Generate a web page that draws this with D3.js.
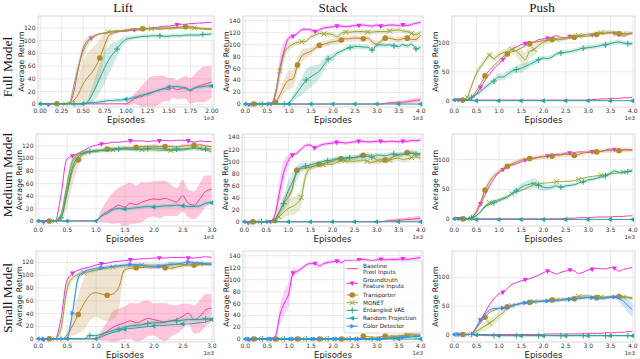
<!DOCTYPE html>
<html>
<head>
<meta charset="utf-8">
<script src="https://cdnjs.cloudflare.com/ajax/libs/d3/7.8.5/d3.min.js"></script>
<style>
body { margin: 0; background: #fff; }
svg { display: block; font-family: "DejaVu Sans", sans-serif; }
</style>
</head>
<body>
<div id="chart"></div>
<script>
// Methods, in legend order
var methodNames = [["Baseline", "Pixel Inputs"], ["Groundtruth", "Feature Inputs"], ["Transporter"], ["MONET"], ["Entangled VAE"], ["Random Projection"], ["Color Detector"]];
var methodColors = ["#f7428c", "#ee2bee", "#b8862b", "#9aa533", "#2aa58c", "#20a5ad", "#3b8ef2"];
var methodMarkers = ["none", "triDown", "circle", "x", "plus", "triLeft", "triRight"];
var markerOffset = [0, 100, 200, 300, 400, 0, 100];

var tasks = ["Lift", "Stack", "Push"];
var models = ["Full Model", "Medium Model", "Small Model"];

// episode grids and ticks
var shortEpisodes = d3.range(0, 2001, 50);
var midEpisodes = d3.range(0, 3001, 100);
var longEpisodes = d3.range(0, 4001, 100);
var shortXTicks = [0, 250, 500, 750, 1000, 1250, 1500, 1750, 2000];
var midXTicks = [0, 500, 1000, 1500, 2000, 2500, 3000];
var longXTicks = [0, 500, 1000, 1500, 2000, 2500, 3000, 3500, 4000];
var liftYTicks = [0, 20, 40, 60, 80, 100, 120];
var stackYTicks = [0, 20, 40, 60, 80, 100, 120, 140];
var pushYTicks = [0, 50, 100];

// ---- Full model, Lift (every 50 episodes)
var fullLiftBaseline = [0,0,0,0,0,0,0,0,0,0, 0,0,0,0,0,0,0,0,0,0, 0,3,8,10,12,16,18,20,22,24, 22,25,22,24,26,20,24,28,30,32, 34];
var fullLiftBaselineBand = [0,0,0,0,0,0,0,0,0,0, 0,0,0,0,0,0,0,0,0,0, 2,5,8,12,18,22,25,24,22,20, 18,16,15,16,18,20,22,25,28,27, 25];
var fullLiftGroundtruth = [0,0,-2,0,0,0,0,2,20,55, 85,98,103,107,110,111,112,113,113,114, 114,115,116,116,117,118,119,120,121,122, 122,123,124,125,125,126,126,127,127,128, 128];
var fullLiftTransporter = [0,0,0,0,0,0,0,1,6,15, 30,40,48,58,72,90,106,111,113,114, 115,116,117,117,118,118,118,118,119,119, 119,120,120,121,121,121,120,119,118,118, 118];
var fullLiftTransporterBand = [0,0,0,0,0,0,0,2,10,25, 35,38,38,35,30,20,8,4,2,2, 2,2,2,2,2,2,2,2,2,2, 2,2,2,2,2,2,2,2,2,2, 2];
var fullLiftMonet = [0,0,0,0,0,0,0,3,30,58, 80,95,103,108,110,111,113,114,115,115, 116,117,117,118,118,118,118,118,117,118, 118,118,119,119,119,119,119,118,118,117, 117];
var fullLiftMonetBand = [0,0,0,0,0,0,0,2,8,12, 12,10,6,3,2,2,2,2,2,2, 2,2,2,2,2,2,2,2,2,2, 2,2,2,2,2,2,2,2,2,2, 2];
var fullLiftVae = [0,0,0,0,0,0,0,0,0,0, 0,2,12,25,40,55,68,78,86,95, 101,103,104,105,106,106,107,107,107,106, 106,107,107,107,108,108,108,108,109,109, 110];
var fullLiftVaeBand = [0,0,0,0,0,0,0,0,0,0, 0,3,10,18,22,25,22,18,12,8, 5,3,3,3,3,3,3,3,3,3, 3,3,3,3,3,3,3,3,3,3, 3];
var fullLiftRandom = [0,0,0,0,0,0,0,0,0,0, 0,1,2,2,3,4,5,5,6,6, 7,8,10,12,14,15,17,20,22,24, 26,27,27,26,24,22,25,26,27,28, 28];
var fullLiftRandomBand = [0,0,0,0,0,0,0,0,0,0, 0,2,3,3,3,3,3,3,3,3, 3,3,3,3,3,3,3,3,3,3, 3,3,3,3,3,3,3,3,3,3, 3];

// ---- Full model, Stack (every 100 episodes)
var fullStackBaseline = [0,0,0,0,0,0,0,0,0,0, 0,0,0,0,0,0,0,0,0,0, 0,0,0,0,0,0,0,0,0,0, 0,0,1,2,2,3,3,4,5,6, 7];
var fullStackBaselineBand = [0,0,0,0,0,0,0,0,0,0, 0,0,0,0,0,0,0,0,0,0, 0,0,0,0,0,0,0,0,0,0, 0,1,1,2,2,3,3,3,4,4, 4];
var fullStackGroundtruth = [0,-2,0,0,0,0,0,15,60,90, 110,113,118,124,125,124,121,124,127,128, 129,130,130,129,130,131,131,132,131,130, 132,130,131,132,132,131,132,131,133,135, 136];
var fullStackGroundtruthBand = [0,0,0,0,0,0,0,8,20,15, 5,3,3,3,3,3,3,3,3,3, 3,3,3,3,3,3,3,3,3,3, 3,3,3,3,3,3,3,3,3,3, 3];
var fullStackTransporter = [0,0,0,0,0,0,0,3,15,30, 40,42,65,80,85,88,93,98,100,102, 104,105,107,109,109,110,110,109,110,104, 100,105,110,110,108,107,109,110,108,108, 115];
var fullStackTransporterBand = [0,0,0,0,0,0,0,3,8,12, 15,15,12,10,8,6,5,5,5,5, 5,5,5,5,5,5,5,5,5,5, 5,5,5,5,5,5,5,5,5,5, 5];
var fullStackMonet = [0,0,0,0,0,0,0,20,55,85, 95,100,103,104,105,112,115,118,117,117, 116,112,118,120,120,121,121,121,120,120, 121,121,121,122,123,124,122,121,118,116, 120];
var fullStackMonetBand = [0,0,0,0,0,0,0,5,12,10, 6,5,4,4,4,4,4,4,4,4, 4,4,4,4,4,4,4,4,4,4, 4,4,4,4,4,4,4,4,4,4, 4];
var fullStackVae = [0,0,0,0,0,0,0,0,0,0, 2,10,20,30,40,45,50,55,65,75, 78,85,88,92,94,96,96,95,95,90, 98,99,98,99,97,96,99,97,100,92, 95];
var fullStackVaeBand = [0,0,0,0,0,0,0,0,0,0, 2,6,10,15,18,18,15,12,10,8, 6,5,4,4,4,4,4,4,4,4, 4,4,4,4,4,4,4,4,4,4, 4];
var fullStackRandom = [0,0,0,0,0,0,0,0,0,0, 0,0,0,0,0,0,0,0,0,0, 0,0,0,0,0,0,0,0,0,0, 0,0,0,0,0,0,0,0,0,0, 0];

// ---- Full model, Push
var fullPushBaseline = [0,-1,0,0,0,0,0,0,0,0, 0,0,0,0,0,0,0,0,0,0, 0,0,0,0,0,0,0,0,0,0, 0,1,1,2,2,3,3,3,4,4, 5];
var fullPushGroundtruth = [0,0,0,0,3,10,22,35,45,55, 62,70,80,88,92,96,98,100,101,105, 106,107,109,112,109,108,110,112,111,113, 114,113,115,116,115,117,116,114,111,114, 116];
var fullPushTransporter = [0,0,0,1,5,15,28,42,52,60, 68,75,80,84,86,90,94,98,100,102, 103,104,105,105,106,106,108,109,110,110, 111,112,114,115,116,117,116,115,115,115, 115];
var fullPushMonet = [0,0,0,5,25,45,58,68,78,72, 78,82,85,88,85,78,70,85,88,95, 100,103,104,106,105,108,110,112,112,113, 114,114,116,117,118,118,117,116,115,116, 117];
var fullPushMonetBand = [0,0,0,3,5,6,6,6,6,6, 6,6,6,8,10,12,14,12,10,8, 6,5,4,4,4,4,4,4,4,4, 4,4,4,4,4,4,4,4,4,4, 4];
var fullPushVae = [0,0,0,0,5,10,15,22,28,33, 40,40,45,50,53,55,58,62,66,70, 73,72,75,80,82,83,84,86,88,90, 91,92,93,95,96,98,100,101,99,98, 98];
var fullPushVaeBand = [0,0,0,0,3,3,4,4,5,5, 6,6,6,6,6,8,6,5,5,5, 4,4,4,4,4,4,4,4,4,4, 4,4,4,4,4,4,4,4,4,4, 4];
var fullPushRandom = [0,0,0,0,-1,-1,-1,-1,-1,-1, -1,-1,-1,-1,-1,-1,-1,-1,-1,-1, -1,-1,-1,-1,-1,-1,-1,-1,-1,-1, -1,-1,-1,-1,-1,-1,-1,-1,-1,-1, -1];

// ---- Medium model, Lift (every 100 episodes)
var medLiftBaseline = [0,0,0,0,0,0,0,0,0,0, 0,8,15,20,25,22,28,26,30,33, 35,34,36,33,30,40,28,25,35,47, 50];
var medLiftBaselineBand = [0,0,0,0,0,0,0,0,0,0, 0,10,18,25,28,35,33,30,32,28, 28,30,28,25,22,25,22,22,25,25, 22];
var medLiftGroundtruth = [0,-2,0,0,40,98,103,107,112,117, 120,122,123,125,125,126,127,127,127,126, 127,127,128,127,128,128,127,125,127,126, 126];
var medLiftTransporter = [0,0,0,0,5,40,80,97,107,110, 111,112,114,115,115,116,116,117,118,118, 119,118,118,118,117,119,120,120,121,119, 118];
var medLiftTransporterBand = [0,0,0,0,5,20,22,12,5,3, 3,3,3,3,3,3,3,3,3,3, 3,3,3,3,3,3,3,3,3,3, 3];
var medLiftMonet = [0,0,0,0,10,55,95,105,108,110, 111,112,113,113,114,114,114,114,113,113, 113,112,112,112,112,113,114,115,115,113, 110];
var medLiftMonetBand = [0,0,0,0,5,10,8,4,3,3, 3,3,3,3,3,3,3,3,3,3, 3,3,3,3,3,3,3,3,3,3, 3];
var medLiftVae = [0,0,0,0,5,45,85,102,108,110, 111,112,112,113,114,115,114,113,114,115, 116,115,114,113,114,114,115,116,115,114, 114];
var medLiftVaeBand = [0,0,0,0,5,12,10,5,3,3, 3,3,3,3,3,3,3,3,3,3, 3,3,3,3,3,3,3,3,3,3, 3];
var medLiftRandom = [0,0,0,0,0,0,0,0,0,0, 0,8,12,18,20,19,20,21,22,23, 22,23,24,24,25,24,23,23,24,28, 29];
var medLiftRandomBand = [0,0,0,0,0,0,0,0,0,0, 0,3,3,3,3,3,3,3,3,3, 3,3,3,3,3,3,3,3,3,3, 3];

// ---- Medium model, Stack
var medStackBaseline = [0,0,0,0,0,0,0,0,0,0, 0,0,0,0,0,0,0,0,0,0, 0,0,0,0,0,0,0,0,0,0, 0,0,1,2,2,3,3,4,4,5, 6];
var medStackBaselineBand = [0,0,0,0,0,0,0,0,0,0, 0,0,0,0,0,0,0,0,0,0, 0,0,0,0,0,0,0,0,0,0, 0,0,2,2,3,3,3,4,4,4, 4];
var medStackGroundtruth = [0,-2,0,0,0,0,0,10,45,80, 100,110,113,120,126,127,122,125,128,129, 130,131,131,130,131,132,133,133,132,132, 133,133,132,133,133,132,133,133,134,134, 135];
var medStackGroundtruthBand = [0,0,0,0,0,0,0,8,20,20, 10,5,3,3,3,3,3,3,3,3, 3,3,3,3,3,3,3,3,3,3, 3,3,3,3,3,3,3,3,3,3, 3];
var medStackTransporter = [0,0,0,0,0,0,0,2,15,30, 40,55,85,88,89,90,92,95,96,98, 100,103,104,106,105,106,108,110,111,107, 103,100,102,104,108,110,111,114,115,112, 110];
var medStackTransporterBand = [0,0,0,0,0,0,0,2,8,12, 12,10,6,4,4,4,4,4,4,4, 4,4,4,4,4,4,4,4,5,6, 6,5,4,4,4,4,4,4,4,4, 4];
var medStackMonet = [0,0,0,0,0,0,0,2,8,15, 22,25,30,40,75,88,92,93,94,95, 95,98,100,101,100,100,101,102,100,98, 100,103,101,102,104,105,103,104,106,107, 105];
var medStackMonetBand = [0,0,0,0,0,0,0,2,5,10, 12,15,15,15,10,6,4,4,4,4, 4,4,4,4,4,4,4,4,4,4, 4,4,4,4,4,4,4,4,4,4, 4];
var medStackVae = [0,0,0,0,0,0,0,3,15,30, 50,65,80,90,92,94,96,97,100,101, 102,104,105,104,106,106,107,108,108,107, 110,110,109,111,112,111,112,112,113,112, 113];
var medStackVaeBand = [0,0,0,0,0,0,0,2,5,10, 15,15,12,8,5,4,4,4,4,4, 4,4,4,4,4,4,4,4,4,4, 4,4,4,4,4,4,4,4,4,4, 4];
var medStackRandom = [0,0,0,0,0,0,0,0,0,0, 0,0,0,0,0,0,0,0,0,0, 0,0,0,0,0,0,0,0,0,0, 0,0,0,0,0,0,0,0,0,0, 0];

// ---- Medium model, Push
var medPushBaseline = [0,0,0,0,0,0,0,0,0,0, 0,0,0,0,0,0,0,0,0,0, 0,0,0,0,0,1,1,1,2,2, 2,2,3,3,3,3,4,4,4,5, 5];
var medPushGroundtruth = [0,0,0,0,2,10,25,40,55,67, 77,82,87,90,92,95,98,100,101,103, 104,105,106,108,108,110,110,111,112,112, 111,112,113,113,115,117,116,113,115,116, 115];
var medPushTransporter = [0,0,0,0,2,12,28,48,62,72, 78,84,88,92,95,98,100,101,102,103, 104,104,105,106,107,108,108,106,108,110, 112,112,112,113,114,114,115,114,116,115, 115];
var medPushTransporterBand = [0,0,0,0,3,4,5,6,6,5, 4,4,4,4,4,4,4,4,4,4, 4,4,4,4,4,4,4,4,4,4, 4,4,4,4,4,4,4,4,4,4, 4];
var medPushMonet = [0,0,0,0,1,5,12,22,27,30, 32,35,38,42,45,47,50,54,58,58, 60,60,61,62,62,63,63,64,66,68, 70,71,72,73,74,75,76,77,78,79, 79];
var medPushVae = [0,0,0,0,2,5,12,20,24,27, 30,33,36,42,47,52,56,58,60,56, 53,52,53,55,53,55,56,57,60,62, 65,66,68,70,72,76,80,78,78,79, 82];
var medPushVaeBand = [0,0,0,0,2,2,3,3,3,3, 3,3,3,4,5,6,7,8,8,7, 6,5,4,4,3,3,3,3,3,3, 3,3,3,3,3,4,4,3,3,3, 3];
var medPushRandom = [0,0,0,0,-1,-1,-1,-1,-1,-1, -1,-1,-1,-1,-1,-1,-1,-1,-1,-1, -1,-1,-1,-1,-1,-1,-1,-1,-1,-1, -1,-1,-1,-1,-1,-1,-1,-1,-1,-1, -1];

// ---- Small model, Lift
var smallLiftBaseline = [0,0,0,0,0,0,0,0,0,0, 0,5,12,18,22,25,28,25,28,32, 30,28,26,28,30,35,40,30,35,45, 48];
var smallLiftBaselineBand = [0,0,0,0,0,0,0,0,0,0, 0,8,15,25,25,25,28,30,30,28, 25,28,30,25,22,20,15,22,25,25, 22];
var smallLiftGroundtruth = [0,-2,0,0,30,90,102,107,110,112, 115,117,118,120,121,122,123,124,125,125, 126,126,126,127,127,127,126,126,127,128, 127];
var smallLiftTransporter = [0,0,0,0,0,5,20,38,55,68, 72,70,68,70,80,108,110,111,111,112, 112,112,111,110,112,114,115,115,116,116, 116];
var smallLiftTransporterBand = [0,0,0,0,0,5,15,30,40,40, 38,40,40,40,35,5,3,3,3,3, 3,3,3,3,3,3,3,3,3,3, 3];
var smallLiftMonet = [0,0,0,0,15,75,95,100,103,105, 107,109,110,112,113,114,114,114,115,115, 115,115,115,116,116,116,116,117,117,117, 118];
var smallLiftMonetBand = [0,0,0,0,8,12,6,4,3,3, 3,3,3,3,3,3,3,3,3,3, 3,3,3,3,3,3,3,3,3,3, 3];
var smallLiftVae = [0,0,0,0,0,0,0,0,0,5, 5,7,10,13,15,18,20,21,22,24, 25,25,26,28,28,29,30,30,30,31, 31];
var smallLiftVaeBand = [0,0,0,0,0,0,0,0,0,3, 3,3,3,3,3,3,3,3,3,3, 3,3,3,3,3,3,3,3,3,3, 3];
var smallLiftRandom = [0,0,0,0,0,0,0,0,0,0, 0,3,7,10,12,15,16,17,18,19, 20,21,21,22,22,23,23,24,25,26, 30];
var smallLiftColor = [0,0,0,0,0,0,40,95,105,108, 110,111,112,113,114,115,116,116,115,113, 112,113,115,116,117,118,120,119,118,117, 116];
var smallLiftColorBand = [0,0,0,0,0,3,10,8,4,3, 3,3,3,3,3,3,3,3,3,3, 3,3,3,3,3,3,3,3,3,3, 3];

// ---- Small model, Stack
var smallStackBaseline = [0,0,0,0,0,0,0,0,0,0, 0,0,0,0,0,0,0,0,0,0, 0,0,0,0,0,0,0,0,0,0, 0,1,1,2,2,3,3,4,5,5, 6];
var smallStackGroundtruth = [0,-2,0,0,0,0,0,5,40,60, 75,110,113,118,124,126,126,122,126,128, 129,130,128,131,131,130,132,133,132,131, 132,133,132,133,133,133,134,133,134,135, 136];
var smallStackGroundtruthBand = [0,0,0,0,0,0,0,5,15,20, 20,8,4,3,3,3,3,3,3,3, 3,3,3,3,3,3,3,3,3,3, 3,3,3,3,3,3,3,3,3,3, 3];
var smallStackTransporter = [0,0,0,0,0,0,0,0,0,0, 0,0,0,0,0,0,0,0,0,0, 0,0,0,0,0,0,0,5,4,3, 3,4,5,5,5,5,6,7,8,8, 8];
var smallStackMonet = [0,0,0,0,0,0,0,0,0,0, 0,0,0,0,0,0,0,0,0,0, 0,0,0,0,0,0,0,0,0,0, 0,1,2,3,4,5,6,8,10,12, 12];
var smallStackMonetBand = [0,0,0,0,0,0,0,0,0,0, 0,0,0,0,0,0,0,0,0,0, 0,0,0,0,0,0,0,0,0,0, 0,2,2,2,3,3,3,4,4,5, 5];
var smallStackVae = [0,0,0,0,0,0,0,0,0,0, 0,0,0,0,0,0,0,0,0,0, 0,0,0,0,0,0,0,0,0,0, 0,0,0,1,1,2,2,3,3,4, 4];
var smallStackRandom = [0,0,0,0,0,0,0,0,0,0, 0,0,0,0,0,0,0,0,0,0, 0,0,0,0,0,0,0,0,0,0, 0,0,0,0,0,0,0,0,0,0, 0];
var smallStackColor = [0,0,0,0,0,0,0,0,0,0, 0,0,0,0,0,0,0,0,0,0, 0,0,0,0,0,0,0,0,0,0, 0,0,1,1,2,3,3,4,5,5, 5];

// ---- Small model, Push
var smallPushBaseline = [0,0,0,0,0,0,0,0,0,0, 0,0,0,0,0,0,0,0,0,0, 0,1,1,1,1,1,1,1,1,1, 2,2,2,2,3,3,3,4,4,5, 5];
var smallPushGroundtruth = [0,0,0,0,2,12,25,38,52,62, 70,73,80,87,90,93,95,97,100,103, 107,110,108,105,108,110,112,110,106,108, 112,113,115,114,114,116,115,110,113,115, 116];
var smallPushTransporter = [0,0,0,0,0,10,20,30,38,42, 45,47,48,50,52,54,55,56,57,57, 58,59,60,60,60,61,61,62,63,64, 64,64,64,64,65,65,65,66,66,65, 64];
var smallPushMonet = [0,0,0,0,0,5,10,15,20,25, 32,38,45,50,52,54,55,56,57,57, 58,59,60,60,61,62,63,65,66,67, 67,66,66,65,65,66,66,66,65,64, 62];
var smallPushMonetBand = [0,0,0,0,0,3,5,8,8,8, 8,6,4,3,3,3,3,3,3,3, 3,3,3,3,3,3,3,3,3,3, 3,3,3,3,3,3,3,3,3,3, 3];
var smallPushVae = [0,0,0,0,0,-1,-1,-2,-2,-2, -2,-2,-2,-2,-2,-2,-2,-2,-2,-2, -2,-2,-2,-2,-2,-2,-2,-2,-2,-2, -2,-2,-2,-2,-2,-2,-2,-2,-2,-2, -2];
var smallPushRandom = [0,0,0,0,0,-1,-1,-1,-1,-1, -2,-2,-2,-2,-2,-2,-2,-2,-2,-2, -2,-2,-2,-2,-2,-2,-2,-2,-2,-2, -2,-2,-2,-2,-2,-2,-2,-2,-2,-2, -2];
var smallPushColor = [0,0,0,0,0,12,25,35,42,45, 45,46,47,50,52,54,55,56,57,58, 58,58,59,59,60,60,61,62,62,63, 64,64,63,62,63,64,65,62,58,50, 43];
var smallPushColorBand = [0,0,0,0,0,3,3,3,3,3, 3,3,3,3,3,3,3,3,3,3, 3,3,3,3,3,3,3,3,3,3, 3,3,3,3,3,3,3,5,10,12, 12];

// panel table (row = model, col = task)
var panels = [
  {row: 0, col: 0, episodes: shortEpisodes, xTicks: shortXTicks, xFmt: ".2f", yDomain: [-5, 138], yTicks: liftYTicks,
   values: [fullLiftBaseline, fullLiftGroundtruth, fullLiftTransporter, fullLiftMonet, fullLiftVae, fullLiftRandom, null],
   bands: [fullLiftBaselineBand, null, fullLiftTransporterBand, fullLiftMonetBand, fullLiftVaeBand, fullLiftRandomBand, null]},
  {row: 0, col: 1, episodes: longEpisodes, xTicks: longXTicks, xFmt: ".1f", yDomain: [-5, 147], yTicks: stackYTicks,
   values: [fullStackBaseline, fullStackGroundtruth, fullStackTransporter, fullStackMonet, fullStackVae, fullStackRandom, null],
   bands: [fullStackBaselineBand, fullStackGroundtruthBand, fullStackTransporterBand, fullStackMonetBand, fullStackVaeBand, null, null]},
  {row: 0, col: 2, episodes: longEpisodes, xTicks: longXTicks, xFmt: ".1f", yDomain: [-12, 146], yTicks: pushYTicks,
   values: [fullPushBaseline, fullPushGroundtruth, fullPushTransporter, fullPushMonet, fullPushVae, fullPushRandom, null],
   bands: [null, null, null, fullPushMonetBand, fullPushVaeBand, null, null]},
  {row: 1, col: 0, episodes: midEpisodes, xTicks: midXTicks, xFmt: ".1f", yDomain: [-8, 138], yTicks: liftYTicks,
   values: [medLiftBaseline, medLiftGroundtruth, medLiftTransporter, medLiftMonet, medLiftVae, medLiftRandom, null],
   bands: [medLiftBaselineBand, null, medLiftTransporterBand, medLiftMonetBand, medLiftVaeBand, medLiftRandomBand, null]},
  {row: 1, col: 1, episodes: longEpisodes, xTicks: longXTicks, xFmt: ".1f", yDomain: [-7, 145], yTicks: stackYTicks,
   values: [medStackBaseline, medStackGroundtruth, medStackTransporter, medStackMonet, medStackVae, medStackRandom, null],
   bands: [medStackBaselineBand, medStackGroundtruthBand, medStackTransporterBand, medStackMonetBand, medStackVaeBand, null, null]},
  {row: 1, col: 2, episodes: longEpisodes, xTicks: longXTicks, xFmt: ".1f", yDomain: [-12, 142], yTicks: pushYTicks,
   values: [medPushBaseline, medPushGroundtruth, medPushTransporter, medPushMonet, medPushVae, medPushRandom, null],
   bands: [null, null, medPushTransporterBand, null, medPushVaeBand, null, null]},
  {row: 2, col: 0, episodes: midEpisodes, xTicks: midXTicks, xFmt: ".1f", yDomain: [-5, 137], yTicks: liftYTicks,
   values: [smallLiftBaseline, smallLiftGroundtruth, smallLiftTransporter, smallLiftMonet, smallLiftVae, smallLiftRandom, smallLiftColor],
   bands: [smallLiftBaselineBand, null, smallLiftTransporterBand, smallLiftMonetBand, smallLiftVaeBand, null, smallLiftColorBand]},
  {row: 2, col: 1, episodes: longEpisodes, xTicks: longXTicks, xFmt: ".1f", yDomain: [-5, 147], yTicks: stackYTicks,
   values: [smallStackBaseline, smallStackGroundtruth, smallStackTransporter, smallStackMonet, smallStackVae, smallStackRandom, smallStackColor],
   bands: [null, smallStackGroundtruthBand, null, smallStackMonetBand, null, null, null], legend: true},
  {row: 2, col: 2, episodes: longEpisodes, xTicks: longXTicks, xFmt: ".1f", yDomain: [-13, 145], yTicks: pushYTicks,
   values: [smallPushBaseline, smallPushGroundtruth, smallPushTransporter, smallPushMonet, smallPushVae, smallPushRandom, smallPushColor],
   bands: [null, null, null, smallPushMonetBand, null, null, smallPushColorBand]}
];

// layout of plot frames (pixels)
var frames = [
  [{x0: 38, x1: 214, y0: 16, y1: 107}, {x0: 243, x1: 423, y0: 16, y1: 107}, {x0: 452, x1: 635, y0: 16, y1: 107}],
  [{x0: 36, x1: 214, y0: 134, y1: 226}, {x0: 242, x1: 423, y0: 134, y1: 226}, {x0: 452, x1: 635, y0: 134, y1: 226}],
  [{x0: 36, x1: 214, y0: 251, y1: 342}, {x0: 243, x1: 423, y0: 251, y1: 342}, {x0: 452, x1: 635, y0: 251, y1: 342}]
];
var titleX = [123, 333, 542];
var rowLabelY = [67, 175, 298];

var svg = d3.select("#chart").append("svg")
    .attr("width", 640)
    .attr("height", 359);

function drawMarker(g, type, cx, cy, color) {
    var r = 2.5;
    if (type === "triDown") {
        g.append("path").attr("d", `M${cx - r},${cy - r * 0.75}L${cx + r},${cy - r * 0.75}L${cx},${cy + r * 1.1}Z`).attr("fill", color);
    } else if (type === "circle") {
        g.append("circle").attr("cx", cx).attr("cy", cy).attr("r", 2.8).attr("fill", color);
    } else if (type === "x") {
        g.append("path").attr("d", `M${cx - r},${cy - r}L${cx + r},${cy + r}M${cx - r},${cy + r}L${cx + r},${cy - r}`)
            .attr("stroke", color).attr("stroke-width", 1);
    } else if (type === "plus") {
        g.append("path").attr("d", `M${cx - r - 0.5},${cy}L${cx + r + 0.5},${cy}M${cx},${cy - r - 0.5}L${cx},${cy + r + 0.5}`)
            .attr("stroke", color).attr("stroke-width", 1);
    } else if (type === "triLeft") {
        g.append("path").attr("d", `M${cx - r * 1.1},${cy}L${cx + r * 0.75},${cy - r}L${cx + r * 0.75},${cy + r}Z`).attr("fill", color);
    } else if (type === "triRight") {
        g.append("path").attr("d", `M${cx + r * 1.1},${cy}L${cx - r * 0.75},${cy - r}L${cx - r * 0.75},${cy + r}Z`).attr("fill", color);
    }
}

panels.forEach(function(p, pi) {
    var f = frames[p.row][p.col];
    var eps = p.episodes;
    var xMax = eps[eps.length - 1];

    var x = d3.scaleLinear().domain([-0.01 * xMax, 1.015 * xMax]).range([f.x0, f.x1]);
    var y = d3.scaleLinear().domain(p.yDomain).range([f.y1, f.y0]);

    var g = svg.append("g");

    // grid via axes
    var xAxis = d3.axisBottom(x)
        .tickValues(p.xTicks)
        .tickFormat(d => d3.format(p.xFmt)(d / 1000))
        .tickSize(-(f.y1 - f.y0))
        .tickPadding(1.6);
    var yAxis = d3.axisLeft(y)
        .tickValues(p.yTicks)
        .tickFormat(d3.format("d"))
        .tickSize(-(f.x1 - f.x0))
        .tickPadding(2.5);

    var gx = g.append("g").attr("transform", `translate(0, ${f.y1})`).call(xAxis);
    var gy = g.append("g").attr("transform", `translate(${f.x0}, 0)`).call(yAxis);
    [gx, gy].forEach(function(a) {
        a.select(".domain").remove();
        a.selectAll("line").attr("stroke", "#e4e4e4").attr("stroke-width", 0.8);
        a.selectAll("text").attr("fill", "#333").attr("font-size", "6px").attr("font-family", "DejaVu Sans");
    });

    // clip
    var clipId = "clip" + pi;
    svg.append("clipPath").attr("id", clipId)
        .append("rect").attr("x", f.x0).attr("y", f.y0).attr("width", f.x1 - f.x0).attr("height", f.y1 - f.y0);
    var plot = g.append("g").attr("clip-path", `url(#${clipId})`);

    // series
    p.values.forEach(function(vals, mi) {
        if (!vals) return;
        var color = methodColors[mi];
        var band = p.bands[mi];
        if (band) {
            var area = d3.area()
                .x((d, i) => x(eps[i]))
                .y0((d, i) => y(d - band[i]))
                .y1((d, i) => y(d + band[i]))
                .curve(d3.curveMonotoneX);
            plot.append("path").datum(vals)
                .attr("d", area)
                .attr("fill", color)
                .attr("opacity", mi === 0 ? 0.3 : 0.22);
        }
        var line = d3.line()
            .x((d, i) => x(eps[i]))
            .y(d => y(d))
            .curve(d3.curveMonotoneX);
        plot.append("path").datum(vals)
            .attr("d", line)
            .attr("fill", "none")
            .attr("stroke", color)
            .attr("stroke-width", 1);
        if (methodMarkers[mi] !== "none") {
            vals.forEach(function(v, i) {
                var e = eps[i] - markerOffset[mi];
                if (e >= 0 && e % 500 === 0) {
                    drawMarker(plot, methodMarkers[mi], x(eps[i]), y(v), color);
                }
            });
        }
    });

    // frame
    g.append("rect")
        .attr("x", f.x0).attr("y", f.y0)
        .attr("width", f.x1 - f.x0).attr("height", f.y1 - f.y0)
        .attr("fill", "none").attr("stroke", "#d0d0d0").attr("stroke-width", 0.8);

    // axis labels
    g.append("text")
        .attr("transform", `translate(${f.x0 - 14}, ${(f.y0 + f.y1) / 2}) rotate(-90)`)
        .attr("text-anchor", "middle")
        .attr("font-size", "7.8px")
        .attr("fill", "#222")
        .text("Average Return");
    g.append("text")
        .attr("x", (f.x0 + f.x1) / 2)
        .attr("y", f.y1 + 15.5)
        .attr("text-anchor", "middle")
        .attr("font-size", "8.5px")
        .attr("fill", "#222")
        .text("Episodes");
    g.append("text")
        .attr("x", f.x1)
        .attr("y", f.y1 + 13)
        .attr("text-anchor", "end")
        .attr("font-size", "5.6px")
        .attr("fill", "#333")
        .text("1e3");

    if (p.legend) drawLegend(f);
});

// column titles
tasks.forEach(function(t, i) {
    svg.append("text")
        .attr("x", titleX[i]).attr("y", 11.5)
        .attr("text-anchor", "middle")
        .attr("font-family", "Liberation Serif, serif")
        .attr("font-size", "13px")
        .attr("fill", "#111")
        .text(t);
});

// row labels
models.forEach(function(m, i) {
    svg.append("text")
        .attr("transform", `translate(12, ${rowLabelY[i]}) rotate(-90)`)
        .attr("text-anchor", "middle")
        .attr("font-family", "Liberation Serif, serif")
        .attr("font-size", "13.5px")
        .attr("fill", "#111")
        .text(m);
});

function drawLegend(f) {
    var lx = f.x1 - 79, ly = f.y0 + 10;
    var lg = svg.append("g").attr("transform", `translate(${lx}, ${ly})`);
    lg.append("rect")
        .attr("width", 78).attr("height", 72)
        .attr("rx", 2)
        .attr("fill", "#fff").attr("fill-opacity", 0.85)
        .attr("stroke", "#d0d0d0").attr("stroke-width", 0.8);
    var centers = [7.7, 22.3, 34, 41.7, 49.3, 57.3, 65.2];
    methodNames.forEach(function(lines, mi) {
        var cy = centers[mi];
        lg.append("line")
            .attr("x1", 2.5).attr("x2", 14)
            .attr("y1", cy).attr("y2", cy)
            .attr("stroke", methodColors[mi]).attr("stroke-width", 1);
        drawMarker(lg, methodMarkers[mi], 8.25, cy, methodColors[mi]);
        lines.forEach(function(t, li) {
            var ty = cy + (li - (lines.length - 1) / 2) * 6.2 + 2;
            lg.append("text")
                .attr("x", 19).attr("y", ty)
                .attr("font-size", "5.7px")
                .attr("fill", "#222")
                .text(t);
        });
    });
}
</script>
</body>
</html>
